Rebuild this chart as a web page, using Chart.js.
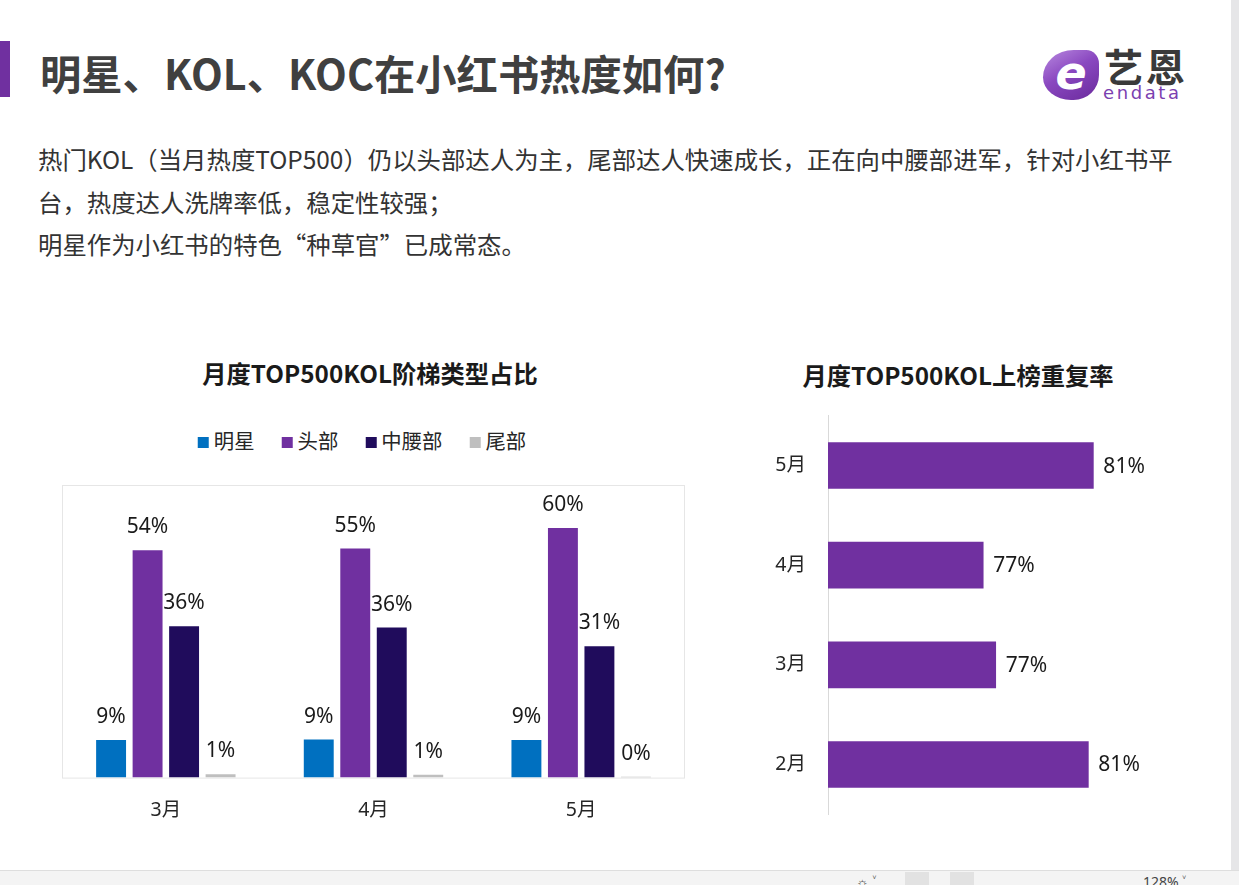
<!DOCTYPE html>
<html>
<head>
<meta charset="utf-8">
<script src="https://cdn.jsdelivr.net/npm/chart.js@4.4.0/dist/chart.umd.min.js"></script>
<style>
  html, body { margin: 0; padding: 0; }
  body {
    width: 1239px; height: 885px; position: relative; overflow: hidden;
    background: #fff; font-family: "Noto Sans CJK SC", "Noto Sans", sans-serif; color: #333;
  }
  .abs { position: absolute; }
  .accent { left: 0; top: 41px; width: 10px; height: 56px; background: #7030A0; }
  .title { left: 40px; top: 43px; font-size: 41.3px; font-weight: 700; color: #404040; white-space: nowrap; line-height: 58px; }
  .para { left: 38px; top: 138px; font-size: 24.4px; line-height: 42.5px; color: #333; white-space: nowrap; }
  .mark {
    left: 1043px; top: 50px; width: 56px; height: 50px;
    background: linear-gradient(150deg, #b98ae0 0%, #8a48c0 45%, #6a2a9c 100%);
    border-radius: 60% 25% 50% 55% / 60% 30% 55% 50%;
    color: #fff; font: italic 700 46px/46px "DejaVu Sans", sans-serif; text-align: center;
  }
  .cn { left: 1104px; top: 40px; font-size: 39px; font-weight: 700; color: #3a3a3a; letter-spacing: 3px; line-height: 50px; }
  .en { left: 1103px; top: 83px; font: 18px/20px "DejaVu Sans", sans-serif; color: #7b3fb0; letter-spacing: 2.6px; }
  .ctitle { font-size: 24.3px; font-weight: 700; color: #1a1a1a; white-space: nowrap; transform: translateX(-50%); line-height: 30px; }
  .legend { left: 362px; top: 426px; transform: translateX(-50%); display: flex; gap: 27px; font-size: 20.4px; color: #262626; white-space: nowrap; line-height: 28px; }
  .legend span.sw { display: inline-block; width: 11px; height: 11px; margin-right: 5px; vertical-align: 1px; }
  .box { position: absolute; }
  .scroll { left: 1231px; top: 0; width: 8px; height: 870px; background: #e6e6e8; }
  .toolbar { left: 0; top: 870px; width: 1239px; height: 15px; background: #f4f4f4; border-top: 1px solid #dedede; }
  .tb { top: 874px; font: 14px/16px "Noto Sans", sans-serif; color: #444; }
</style>
</head>
<body>
<div class="abs accent"></div>
<div class="abs title">明星、KOL、KOC在小红书热度如何?</div>
<div class="abs para">热门KOL（当月热度TOP500）仍以头部达人为主，尾部达人快速成长，正在向中腰部进军，针对小红书平<br>台，热度达人洗牌率低，稳定性较强；<br>明星作为小红书的特色“种草官”已成常态。</div>

<div class="abs mark">e</div>
<div class="abs cn">艺恩</div>
<div class="abs en">endata</div>

<div class="abs ctitle" style="left:370px; top:358px;">月度TOP500KOL阶梯类型占比</div>
<div class="abs ctitle" style="left:958px; top:360px;">月度TOP500KOL上榜重复率</div>
<div class="abs legend" id="legend"></div>

<div class="box" style="left:61px; top:484px; width:625px; height:359px;"><canvas id="ladder"></canvas></div>
<div class="box" style="left:750px; top:382px; width:441px; height:466px;"><canvas id="repeat"></canvas></div>

<div class="abs scroll"></div>
<div class="abs toolbar"></div>
<div class="abs tb" style="left:856px;">☼ ˅</div>
<div class="abs" style="left:905px; top:872px; width:24px; height:13px; background:#e2e2e2;"></div>
<div class="abs" style="left:950px; top:872px; width:24px; height:13px; background:#e2e2e2;"></div>
<div class="abs tb" style="left:1143px;">128% ˅</div>

<script>
// 左图：月度TOP500KOL阶梯类型占比
const months = ['3月', '4月', '5月'];
const tierNames = ['明星', '头部', '中腰部', '尾部'];
const tierColors = ['#0070C0', '#7030A0', '#200C5C', '#BFBFBF'];
const starShare = [9.0, 9.1, 9.0];
const headShare = [54.4, 54.8, 59.7];
const midShare = [36.2, 35.9, 31.4];
const tailShare = [0.8, 0.7, 0.2];

// 右图：月度TOP500KOL上榜重复率
const repeatMonths = ['5月', '4月', '3月', '2月'];
const repeatRate = [81.1, 76.7, 77.2, 80.9];

const labelFont = '"Noto Sans", "Noto Sans CJK SC", sans-serif';

const legendBox = document.getElementById('legend');
tierNames.forEach((name, i) => {
  const item = document.createElement('div');
  item.innerHTML = `<span class="sw" style="background:${tierColors[i]}"></span>${name}`;
  legendBox.appendChild(item);
});

const frameBox = {
  id: 'frameBox',
  beforeDraw(chart) {
    const { ctx, chartArea: { left, top, right, bottom } } = chart;
    ctx.save();
    ctx.strokeStyle = '#e6e6e6';
    ctx.lineWidth = 1;
    ctx.strokeRect(left + 0.5, top + 0.5, right - left - 1, bottom - top);
    ctx.restore();
  },
};

const topLabels = {
  id: 'topLabels',
  afterDatasetsDraw(chart) {
    const { ctx } = chart;
    ctx.save();
    ctx.font = '21px ' + labelFont;
    ctx.fillStyle = '#1a1a1a';
    ctx.textAlign = 'center';
    ctx.textBaseline = 'alphabetic';
    chart.data.datasets.forEach((ds, di) => {
      chart.getDatasetMeta(di).data.forEach((bar, i) => {
        ctx.fillText(Math.round(ds.data[i]) + '%', bar.x, bar.y - 17);
      });
    });
    ctx.restore();
  },
};

const sideLabels = {
  id: 'sideLabels',
  afterDatasetsDraw(chart) {
    const { ctx } = chart;
    ctx.save();
    ctx.font = '21px ' + labelFont;
    ctx.fillStyle = '#1a1a1a';
    ctx.textAlign = 'left';
    ctx.textBaseline = 'middle';
    const ds = chart.data.datasets[0];
    chart.getDatasetMeta(0).data.forEach((bar, i) => {
      ctx.fillText(Math.round(ds.data[i]) + '%', bar.x + 10, bar.y + 1);
    });
    ctx.restore();
  },
};

new Chart(document.getElementById('ladder').getContext('2d'), {
  type: 'bar',
  plugins: [frameBox, topLabels],
  data: {
    labels: months,
    datasets: [starShare, headShare, midShare, tailShare].map((vals, i) => ({
      label: tierNames[i],
      data: vals,
      backgroundColor: tierColors[i],
      borderWidth: 0,
      barPercentage: 0.82,
      categoryPercentage: 0.703,
    })),
  },
  options: {
    responsive: true,
    maintainAspectRatio: false,
    animation: false,
    layout: { padding: { left: 1, right: 1, top: 1 } },
    plugins: { legend: { display: false }, tooltip: { enabled: false } },
    scales: {
      x: {
        grid: { display: false, drawTicks: false },
        border: { display: false },
        ticks: { padding: 21, color: '#262626', font: { size: 19.5, family: labelFont } },
      },
      y: { display: false, min: 0, max: 70 },
    },
  },
});

new Chart(document.getElementById('repeat').getContext('2d'), {
  type: 'bar',
  plugins: [sideLabels],
  data: {
    labels: repeatMonths,
    datasets: [{
      data: repeatRate,
      backgroundColor: '#7030A0',
      borderWidth: 0,
      barThickness: 46,
    }],
  },
  options: {
    indexAxis: 'y',
    responsive: true,
    maintainAspectRatio: false,
    animation: false,
    layout: { padding: 0 },
    plugins: { legend: { display: false }, tooltip: { enabled: false } },
    scales: {
      x: { display: false, min: 70.5, max: 85 },
      y: {
        grid: { display: false, drawTicks: false },
        border: { display: true, color: '#d9d9d9', width: 1 },
        ticks: { padding: 22, color: '#262626', font: { size: 19.5, family: labelFont } },
        afterFit(scale) { scale.width = 78; },
      },
    },
  },
});
</script>
</body>
</html>
